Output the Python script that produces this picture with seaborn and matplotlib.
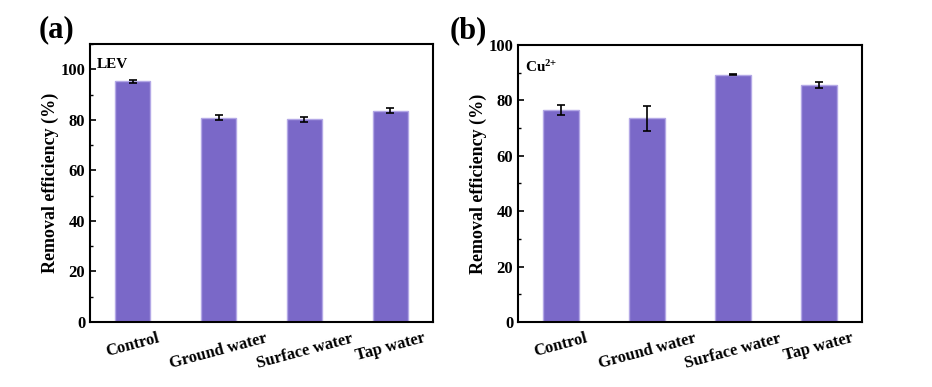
import numpy as np
import pandas as pd
import seaborn as sns
import matplotlib
matplotlib.use("Agg")
import matplotlib.pyplot as plt
from matplotlib.ticker import MultipleLocator

categories = ["Control", "Ground water", "Surface water", "Tap water"]
lev_values = [95.3, 80.9, 80.2, 83.7]
lev_errors = [0.6, 0.9, 1.1, 1.1]
cu_values = [76.5, 73.5, 89.2, 85.6]
cu_errors = [1.7, 4.4, 0.2, 1.0]

sns.set_style("ticks")
plt.rcParams["font.family"] = ["Liberation Serif", "DejaVu Serif"]
plt.rcParams["font.weight"] = "bold"
plt.rcParams["text.color"] = "black"
plt.rcParams["axes.labelcolor"] = "black"
plt.rcParams["xtick.color"] = "black"
plt.rcParams["ytick.color"] = "black"
plt.rcParams["mathtext.fontset"] = "custom"
plt.rcParams["mathtext.rm"] = "Liberation Serif:bold"
plt.rcParams["mathtext.bf"] = "Liberation Serif:bold"

bar_color = "#7A68C8"
edge_color = "#B3A8E6"


def panel(ax, values, errors, ymax, label, tag, tag_x):
    df = pd.DataFrame({"sample": categories, "value": values})
    sns.barplot(data=df, x="sample", y="value", color=bar_color, width=0.41,
                edgecolor=edge_color, linewidth=1, saturation=1, ax=ax)
    ax.errorbar(np.arange(len(categories)), values, yerr=errors, fmt="none",
                ecolor="black", elinewidth=1.2, capsize=3, capthick=1.2)
    ax.set_xlim(-0.5, len(categories) - 0.5)
    ax.set_ylim(0, ymax)
    ax.yaxis.set_major_locator(MultipleLocator(20))
    ax.yaxis.set_minor_locator(MultipleLocator(10))
    ax.tick_params(axis="both", which="both", direction="in", labelsize=12)
    ax.tick_params(which="major", length=4, width=1.2)
    ax.tick_params(which="minor", length=2.5, width=1.0)
    ax.tick_params(axis="x", pad=6)
    for t in ax.get_xticklabels():
        t.set_rotation(15)
        t.set_fontweight("bold")
    for t in ax.get_yticklabels():
        t.set_fontweight("bold")
    for s in ax.spines.values():
        s.set_visible(True)
        s.set_linewidth(1.5)
        s.set_color("black")
    ax.set_xlabel("")
    ax.set_ylabel("Removal efficiency (%)", fontsize=13, fontweight="bold",
                  labelpad=1)
    ax.text(0.02, 0.95, label, transform=ax.transAxes, fontsize=11,
            fontweight="bold", va="top", ha="left")
    ax.text(tag_x, 1.0, tag, transform=ax.transAxes, fontsize=22,
            fontweight="bold", va="bottom", ha="left")


fig = plt.figure(figsize=(9.32, 3.87), dpi=100)
ax1 = fig.add_axes([0.0966, 0.168, 0.368, 0.718])
ax2 = fig.add_axes([0.5558, 0.168, 0.369, 0.716])

panel(ax1, lev_values, lev_errors, 110, "LEV", "(a)", -0.15)
panel(ax2, cu_values, cu_errors, 100, r"$\mathbf{Cu^{2{+}}}$", "(b)", -0.2)

fig.savefig("out.png", dpi=100)
